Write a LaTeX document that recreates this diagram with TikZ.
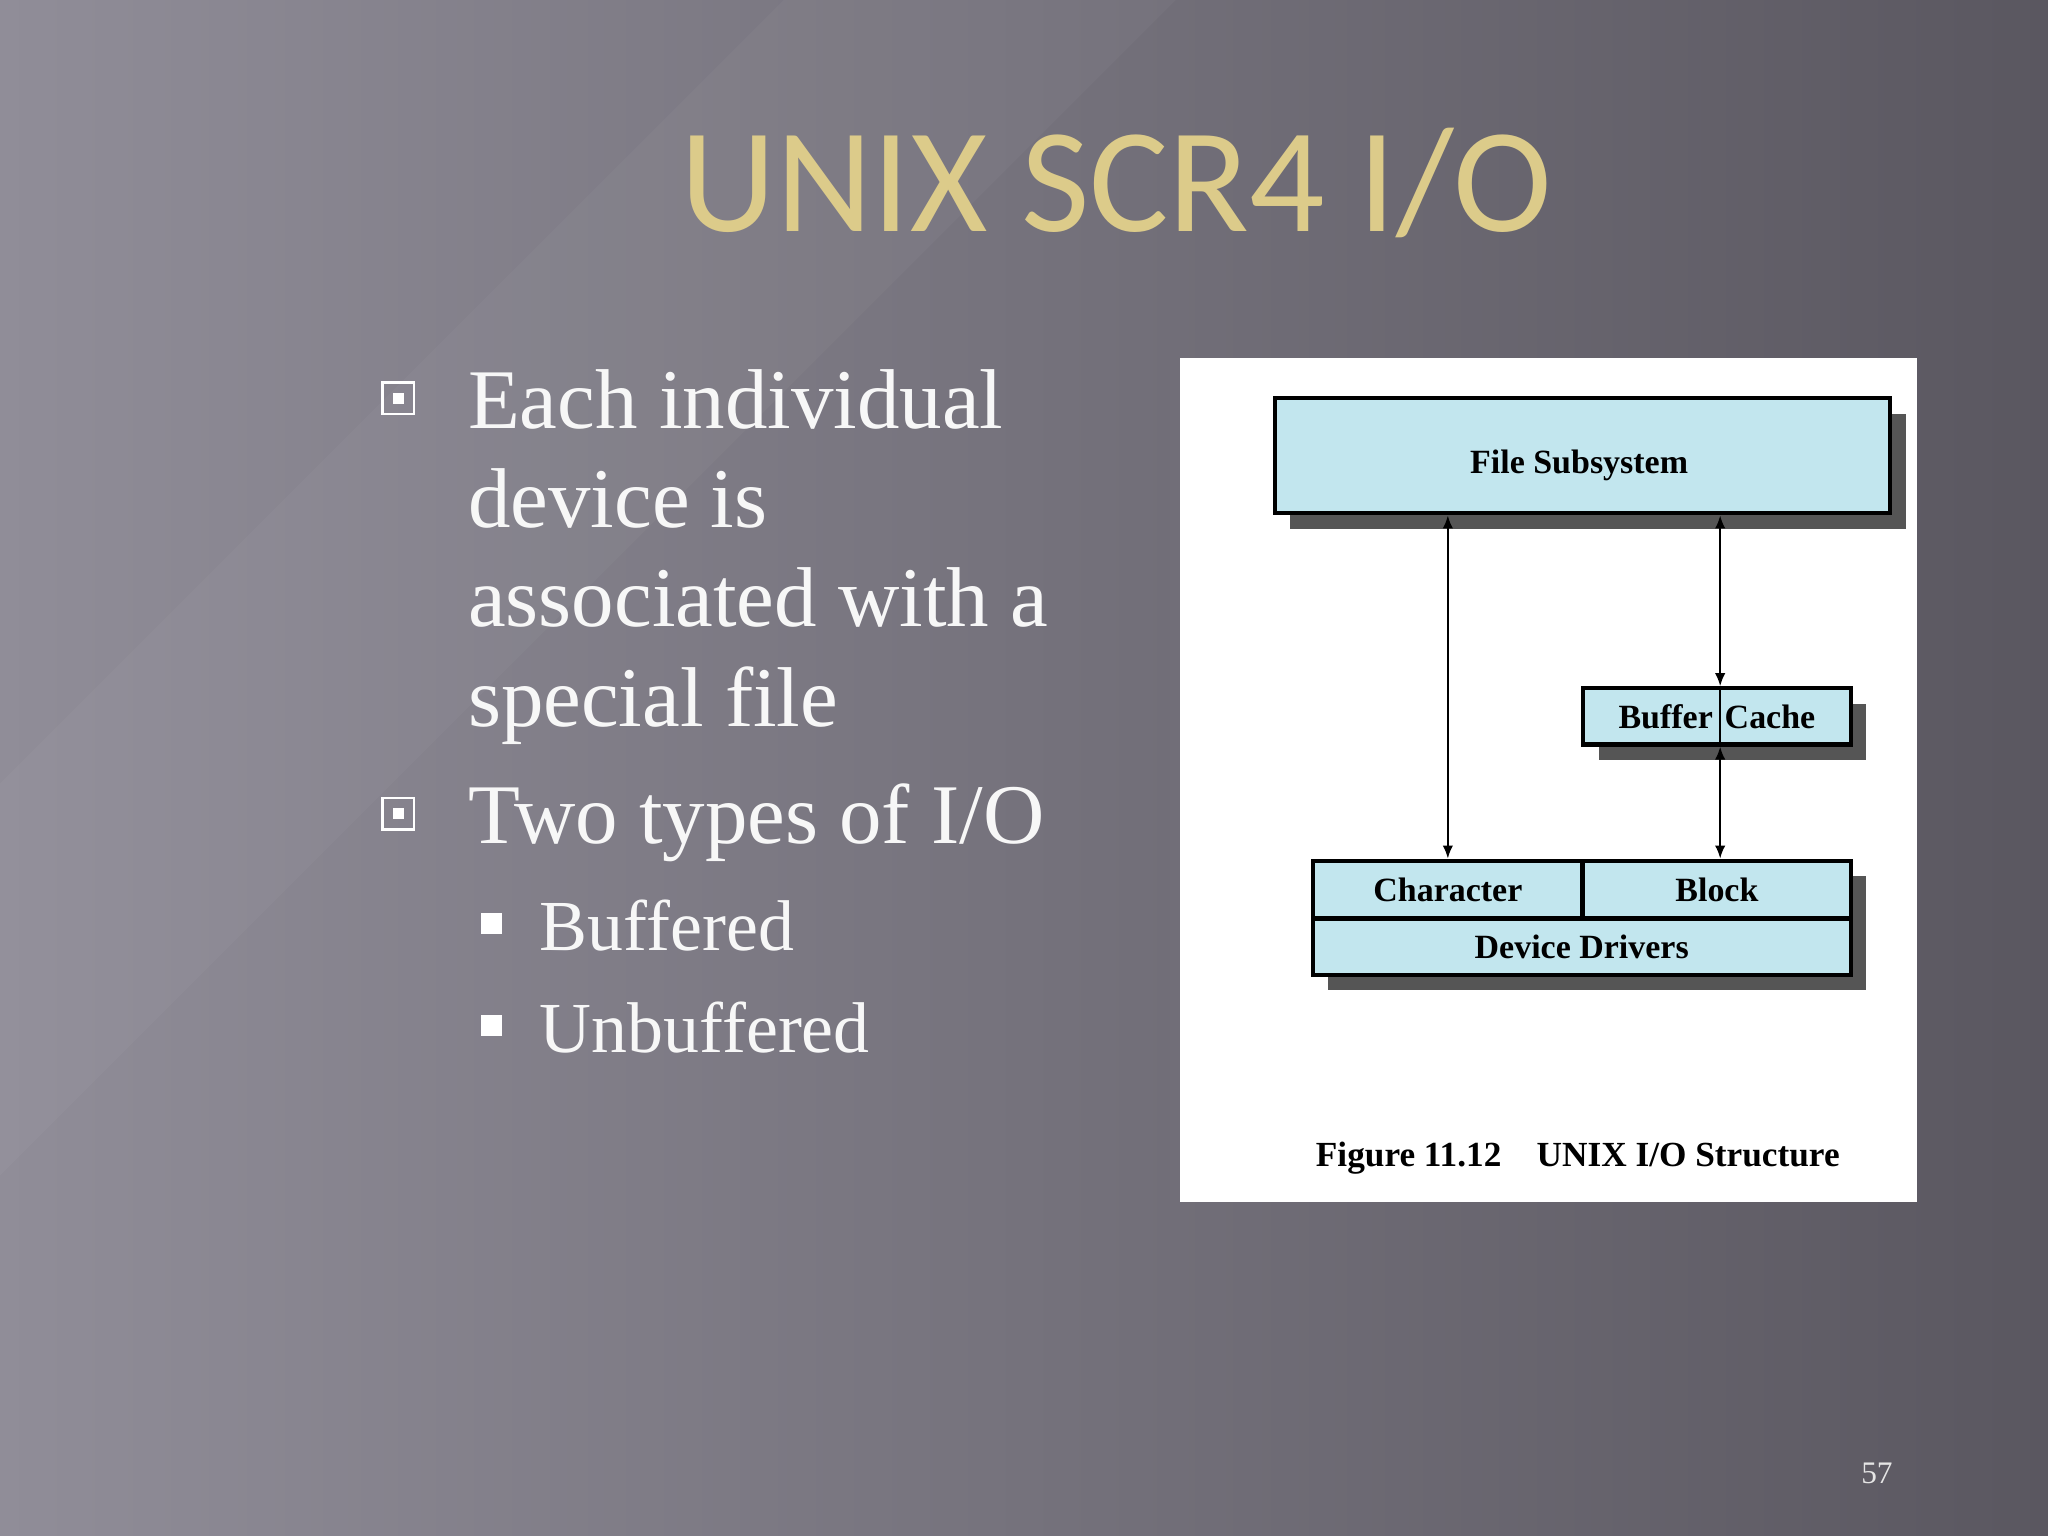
\documentclass[tikz,border=0pt]{standalone}
\usepackage{fontspec}
\setmainfont{Liberation Serif}
\newfontfamily\titlefont{Carlito}
\usetikzlibrary{arrows.meta}
\definecolor{boxblue}{HTML}{C2E6EE}
\definecolor{gold}{HTML}{DCCB8A}
\definecolor{shadowc}{HTML}{555555}
\definecolor{bgL}{HTML}{908D98}
\definecolor{bgR}{HTML}{5A5760}
\tikzset{
 fig/.style={draw=black,line width=1.6pt,fill=boxblue,inner sep=0pt,font=\bfseries\fontsize{13}{15}\selectfont},
 bodytxt/.style={anchor=base west,text=white!94!gray,font=\fontsize{32.5}{36}\selectfont,inner sep=0pt},
 conn/.style={line width=0.8pt,{Latex[length=5pt,width=4pt]}-{Latex[length=5pt,width=4pt]}}
}
\begin{document}
\begin{tikzpicture}[x=0.5pt,y=-0.5pt]
\useasboundingbox (0,0) rectangle (1568,1176);
\shade[left color=bgL, right color=bgR] (0,0) rectangle (1568,1176);
\fill[white,opacity=0.03] (0,600) -- (600,0) -- (900,0) -- (0,900) -- cycle;
\node[text=gold,font=\titlefont\fontsize{57}{62}\selectfont] (title) at (855,140) {UNIX SCR4 I/O};
% bullets
\foreach \y/\n in {305/b1,623/b2}{
 \node[draw=white,line width=1pt,minimum size=12pt,inner sep=0pt] (\n) at (305,\y) {};
 \fill[white] (\n.center) ++(-4,-4) rectangle ++(8,8);
}
\node[bodytxt] (t1) at (358,328) {Each individual};
\node[bodytxt] (t2) at (358,404) {device is};
\node[bodytxt] (t3) at (358,480) {associated with a};
\node[bodytxt] (t4) at (358,556) {special file};
\node[bodytxt] (t5) at (358,646) {Two types of I/O};
\foreach \y/\n in {707/s1,785/s2}{
 \node[fill=white,minimum size=8pt,inner sep=0pt] (\n) at (376,\y) {};
}
\node[bodytxt,font=\fontsize{27.5}{32}\selectfont] (u1) at (413,728) {Buffered};
\node[bodytxt,font=\fontsize{27.5}{32}\selectfont] (u2) at (413,806) {Unbuffered};
% figure
\node[fill=white,minimum width=282pt,minimum height=323pt,inner sep=0pt] (panel) at (1185.5,597) {};
\fill[shadowc] (988,317) rectangle (1459,405);
\fill[shadowc] (1224,539) rectangle (1429,582);
\fill[shadowc] (1017,671) rectangle (1429,758);
\node[fig,minimum width=235.5pt,minimum height=44pt] (fs) at (1211.5,349) {};
\node[font=\bfseries\fontsize{13}{15}\selectfont,inner sep=0pt] (fslabel) at (1209,356) {File Subsystem};
\node[fig,minimum width=102.5pt,minimum height=21.5pt] (bc) at (1314.5,548.5) {Buffer\hspace{0.35em}Cache};
\node[fig,minimum width=103pt,minimum height=22pt] (ch) at (1108.5,681) {Character};
\node[fig,minimum width=102.5pt,minimum height=22pt] (bl) at (1314.5,681) {Block};
\node[fig,minimum width=206pt,minimum height=21.5pt] (dd) at (1211,725) {Device Drivers};
\draw[conn] (fs.south -| ch.north) -- (ch.north);
\draw[conn] (fs.south -| 1317,0) -- (bc.north -| 1317,0);
\draw[conn] (bc.south -| 1317,0) -- (bl.north -| 1317,0);
\draw[line width=0.8pt] (1317,527) -- (1317,570);
\node[font=\bfseries\fontsize{13.5}{15}\selectfont,anchor=base] (cap) at (1208,893) {Figure 11.12\hspace{1em}UNIX I/O Structure};
\node[text=white!80!gray,font=\fontsize{12}{14}\selectfont] (pg) at (1437,1128) {57};
\end{tikzpicture}
\end{document}
